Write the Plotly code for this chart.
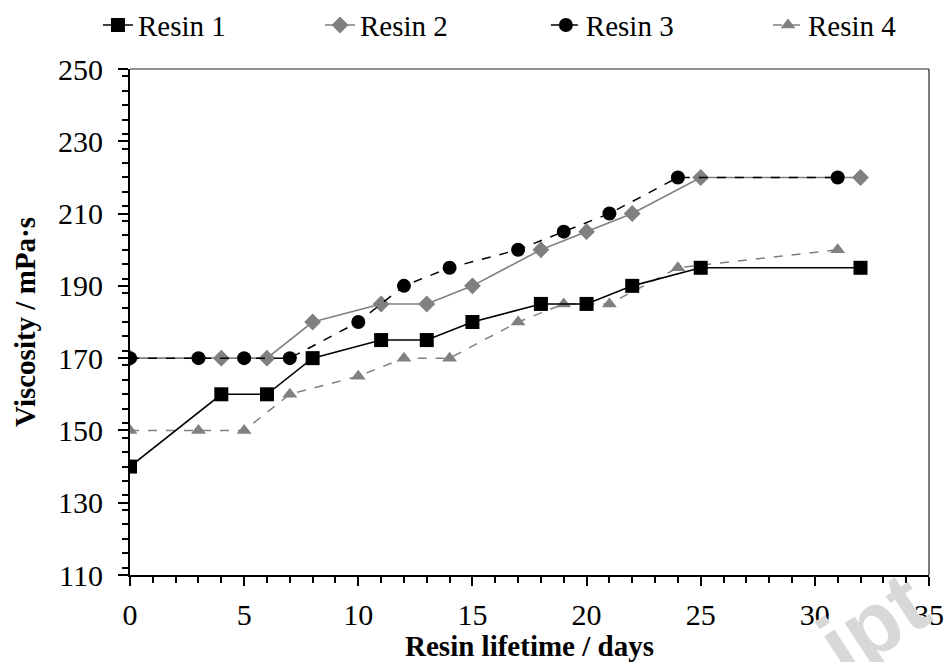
import plotly.graph_objects as go

# Resin viscosity over the resin lifetime
days_r1 = [0, 4, 6, 8, 11, 13, 15, 18, 20, 22, 25, 32]
visc_r1 = [140, 160, 160, 170, 175, 175, 180, 185, 185, 190, 195, 195]

days_r2 = [0, 4, 6, 8, 11, 13, 15, 18, 20, 22, 25, 32]
visc_r2 = [170, 170, 170, 180, 185, 185, 190, 200, 205, 210, 220, 220]

days_r3 = [0, 3, 5, 7, 10, 12, 14, 17, 19, 21, 24, 31]
visc_r3 = [170, 170, 170, 170, 180, 190, 195, 200, 205, 210, 220, 220]

days_r4 = [0, 3, 5, 7, 10, 12, 14, 17, 19, 21, 24, 31]
visc_r4 = [150, 150, 150, 160, 165, 170, 170, 180, 185, 185, 195, 200]

x_ticks = [0, 5, 10, 15, 20, 25, 30, 35]
y_ticks = [110, 130, 150, 170, 190, 210, 230, 250]

SERIF = "Liberation Serif"
GREY = "#808080"

fig = go.Figure()

fig.add_trace(go.Scatter(
    x=days_r2, y=visc_r2, name="Resin 2", mode="lines+markers", legend="legend2",
    line=dict(color=GREY, width=1.6),
    marker=dict(symbol="diamond", size=13, color=GREY),
))
fig.add_trace(go.Scatter(
    x=days_r4, y=visc_r4, name="Resin 4", mode="lines+markers", legend="legend4",
    line=dict(color=GREY, width=1.5, dash="dash"),
    marker=dict(symbol="triangle-up", size=13, color=GREY),
))
fig.add_trace(go.Scatter(
    x=days_r3, y=visc_r3, name="Resin 3", mode="lines+markers", legend="legend3",
    line=dict(color="black", width=1.5, dash="dash"),
    marker=dict(symbol="circle", size=14, color="black"),
))
fig.add_trace(go.Scatter(
    x=days_r1, y=visc_r1, name="Resin 1", mode="lines+markers", legend="legend",
    line=dict(color="black", width=1.6),
    marker=dict(symbol="square", size=14, color="black"),
))

legend_common = dict(
    orientation="h", xref="container", yref="container",
    yanchor="middle", y=0.962, bgcolor="rgba(0,0,0,0)",
    font=dict(family=SERIF, size=29, color="black"),
)

fig.update_layout(
    width=951, height=662,
    margin=dict(l=130, r=22, t=69, b=87, autoexpand=False),
    paper_bgcolor="white", plot_bgcolor="white",
    font=dict(family=SERIF, color="black"),
    showlegend=True,
    legend=dict(x=0.103, **legend_common),
    legend2=dict(x=0.3365, **legend_common),
    legend3=dict(x=0.574, **legend_common),
    legend4=dict(x=0.8076, **legend_common),
    xaxis=dict(
        range=[0, 35], tickvals=x_ticks, ticktext=[str(v) for v in x_ticks],
        showgrid=False, zeroline=False,
        showline=True, linecolor="black", linewidth=2,
        ticks="outside", ticklen=9, tickwidth=2, tickcolor="black",
        ticklabelstandoff=3,
        minor=dict(dtick=1, ticks="outside", ticklen=6, tickwidth=1.5, tickcolor="black"),
        tickfont=dict(family=SERIF, size=30, color="black"),
        title=dict(text="<b>Resin lifetime / days</b>", standoff=0,
                   font=dict(family=SERIF, size=29, color="black")),
    ),
    yaxis=dict(
        range=[110, 250], tickvals=y_ticks, ticktext=[str(v) for v in y_ticks],
        showgrid=False, zeroline=False,
        showline=True, linecolor="black", linewidth=2,
        ticks="outside", ticklen=10, tickwidth=2, tickcolor="black",
        ticklabelstandoff=9,
        minor=dict(dtick=4, ticks="outside", ticklen=6, tickwidth=1.5, tickcolor="black"),
        tickfont=dict(family=SERIF, size=30, color="black"),
        title=dict(text="<b>Viscosity / mPa·s</b>", standoff=14,
                   font=dict(family=SERIF, size=29, color="black")),
    ),
    shapes=[
        # thin frame closing the plot area on the top and right
        dict(type="line", xref="paper", yref="paper", x0=0, x1=1, y0=1, y1=1,
             line=dict(color="#222222", width=1.2)),
        dict(type="line", xref="paper", yref="paper", x0=1, x1=1, y0=0, y1=1,
             line=dict(color="#222222", width=1.2)),
    ],
    annotations=[
        dict(text="<b>ipt</b>", xref="paper", yref="paper", x=0.93, y=-0.095,
             xanchor="center", yanchor="middle", showarrow=False, textangle=-33,
             font=dict(family="Liberation Sans", size=88, color="#d8d8d8")),
    ],
)

fig.write_html("out.html")
